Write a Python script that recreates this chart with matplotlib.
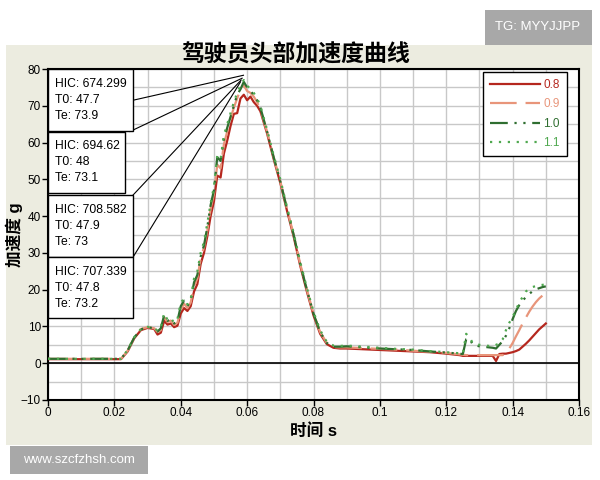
import matplotlib
matplotlib.use("Agg")
import matplotlib.pyplot as plt
from matplotlib.patches import Rectangle
from matplotlib.ticker import MultipleLocator

plt.rcParams['font.family'] = ['Liberation Sans', 'Noto Sans CJK SC', 'DejaVu Sans']

# 数据
t = [0, 0.022, 0.024, 0.026, 0.028, 0.030, 0.032, 0.033, 0.034, 0.035,
     0.036, 0.037, 0.038, 0.039, 0.040, 0.041, 0.042, 0.043, 0.044, 0.045,
     0.046, 0.047, 0.048, 0.049, 0.050, 0.051, 0.052, 0.053, 0.054, 0.055,
     0.056, 0.057, 0.058, 0.059, 0.060, 0.061, 0.062, 0.063, 0.064, 0.066,
     0.068, 0.070, 0.072, 0.074, 0.076, 0.078, 0.080, 0.082, 0.084, 0.086,
     0.088, 0.090, 0.095, 0.100, 0.105, 0.110, 0.115, 0.120, 0.124, 0.125,
     0.126, 0.127, 0.128, 0.130, 0.132, 0.134, 0.135, 0.136, 0.137, 0.138,
     0.139, 0.140, 0.141, 0.142, 0.143, 0.144, 0.145, 0.146, 0.147, 0.148,
     0.149, 0.150]

acc_08 = [1.1, 1.1, 3.2, 6.8, 9.0, 9.6, 9.3, 7.8, 8.3, 11.5,
          10.5, 10.8, 9.8, 10.2, 13.5, 15.0, 14.2, 15.5, 19.5, 21.5,
          27.0, 30.0, 34.5, 40.0, 44.0, 51.0, 50.5, 57.0, 60.5, 64.5,
          67.8, 68.0, 72.0, 73.0, 71.5, 72.5, 71.0, 70.0, 68.5, 62.5,
          55.5, 49.0, 41.5, 34.5, 26.5, 19.5, 13.0, 8.0, 5.2, 4.2,
          4.0, 4.0, 3.8, 3.6, 3.4, 3.2, 3.0, 2.6, 2.2, 2.0,
          2.0, 2.0, 2.0, 2.0, 2.0, 2.0, 0.6, 2.5, 2.6, 2.6,
          2.8, 3.0, 3.3, 3.7, 4.5, 5.3, 6.2, 7.2, 8.2, 9.2,
          10.0, 10.8]

acc_09 = [1.2, 1.2, 3.4, 7.0, 9.3, 9.8, 9.5, 8.5, 9.0, 12.5,
          11.2, 11.6, 10.4, 11.0, 14.5, 16.2, 15.0, 16.5, 21.0, 23.0,
          28.5, 31.5, 36.0, 42.0, 46.0, 54.0, 53.0, 59.5, 63.0, 66.5,
          69.5, 72.0, 74.5, 75.5, 74.0, 73.5, 72.5, 71.0, 69.0, 63.0,
          56.0, 49.5, 42.0, 35.0, 27.0, 20.0, 13.5, 8.5, 5.5, 4.4,
          4.3, 4.3, 4.1, 3.9, 3.7, 3.4, 3.1, 2.8, 2.4, 2.3,
          2.2, 2.2, 2.2, 2.2, 2.2, 2.2, 2.2, 2.2, 2.2, 2.8,
          4.0, 5.5, 7.3, 9.0, 10.8, 12.4, 14.0, 15.4, 16.6, 17.6,
          18.4, 19.0]

acc_10 = [1.2, 1.2, 3.5, 7.0, 9.2, 9.8, 9.5, 8.6, 9.5, 13.0,
          11.5, 12.0, 10.8, 11.5, 15.5, 17.0, 15.5, 17.0, 22.0, 24.0,
          29.0, 32.0, 37.0, 43.0, 47.0, 56.0, 55.0, 61.0, 64.0, 67.0,
          70.0, 73.0, 74.5, 76.5, 75.0, 74.0, 73.0, 71.5, 69.5, 63.0,
          56.0, 49.5, 42.0, 35.0, 27.0, 20.0, 13.5, 8.5, 5.5, 4.5,
          4.5, 4.6, 4.3, 4.0, 3.8, 3.6, 3.2, 2.9, 2.6, 2.5,
          6.5, 6.8, 5.0, 4.6, 4.4, 4.2, 4.0, 5.0, 6.0, 7.5,
          9.5, 12.0, 14.2, 15.8, 17.0, 18.0, 18.8, 19.6, 20.1, 20.4,
          20.7, 20.9]

acc_11 = [1.2, 1.2, 3.6, 7.1, 9.3, 9.9, 9.6, 8.8, 9.8, 13.6,
          11.8, 12.3, 11.0, 12.0, 16.5, 17.5, 16.0, 17.5, 23.0, 25.0,
          30.0, 33.0, 38.0, 43.5, 48.0, 56.5, 55.5, 62.0, 65.0, 68.0,
          71.0, 73.5, 75.5, 77.0, 75.5, 74.5, 73.5, 72.0, 70.0, 63.5,
          56.5, 50.0, 42.5, 35.5, 27.5, 20.5, 14.0, 9.0, 5.8, 4.8,
          4.7, 4.8, 4.5, 4.2, 3.9, 3.7, 3.3, 3.0, 2.7, 2.5,
          8.0, 7.0, 5.5, 5.0, 4.8, 4.6, 5.0, 5.4, 6.5, 9.0,
          11.0, 12.6, 14.5, 16.5, 18.0, 19.5, 20.3, 20.7, 21.0, 21.2,
          21.3, 21.5]

labels = ['0.8', '0.9', '1.0', '1.1']
hic = ['674.299', '694.62', '708.582', '707.339']
t0 = ['47.7', '48', '47.9', '47.8']
te = ['73.9', '73.1', '73', '73.2']

colors = ['#B5271E', '#E8957A', '#2F6E30', '#4FA84F']
styles = ['-', (0, (12, 4)), (0, (8, 3, 1, 3, 1, 3)), (0, (1, 3))]

fig = plt.figure(figsize=(6, 4.8), dpi=100, facecolor='white')
# 背景面板
fig.patches.append(Rectangle((6 / 600, 1 - 445 / 480), 586 / 600, 400 / 480,
                             transform=fig.transFigure, facecolor='#ECECE0',
                             edgecolor='none', zorder=-10))
ax = fig.add_axes([48 / 600, 1 - 400 / 480, 531 / 600, 331 / 480])
ax.set_zorder(1)
ax.set_facecolor('white')

for y, lab, c, ls in zip([acc_08, acc_09, acc_10, acc_11], labels, colors, styles):
    ax.plot(t, y, color=c, linestyle=ls, linewidth=1.6, label=lab, zorder=3)

ax.axhline(0, color='black', linewidth=1.2, zorder=2)

ax.set_xlim(0, 0.16)
ax.set_ylim(-10, 80)
ax.xaxis.set_minor_locator(MultipleLocator(0.01))
ax.yaxis.set_major_locator(MultipleLocator(10))
ax.yaxis.set_minor_locator(MultipleLocator(5))
ax.set_xticks([0, 0.02, 0.04, 0.06, 0.08, 0.1, 0.12, 0.14, 0.16])
ax.set_xticklabels(['0', '0.02', '0.04', '0.06', '0.08', '0.1', '0.12', '0.14', '0.16'])
ax.grid(which='both', color='#C8C8C8', linewidth=1.0, zorder=1)
ax.set_axisbelow(True)
ax.tick_params(which='major', length=4, width=1, labelsize=8.5, pad=1)
ax.tick_params(which='minor', length=0)
for s in ax.spines.values():
    s.set_linewidth(1.5)

fig.text(296 / 600, 1 - 55 / 480, '驾驶员头部加速度曲线', fontsize=16.5,
         fontweight='bold', ha='center', va='center')
ax.set_xlabel('时间 s', fontsize=12, fontweight='bold', labelpad=3)
ax.set_ylabel('加速度 g', fontsize=12, fontweight='bold')
ax.yaxis.set_label_coords(-0.047, 0.5)

# HIC 注释框
boxes = [(80, 63.2, 0.0256), (63.0, 46.2, 0.0232), (45.7, 28.9, 0.0256), (28.8, 12.2, 0.0256)]
starts = [(0.0256, 71.5), (0.0247, 63.0), (0.0256, 45.7), (0.0256, 28.8)]
ends = [(0.0589, 78.3), (0.0585, 77.5), (0.0582, 77.0), (0.0580, 76.5)]
for i, (top, bot, right) in enumerate(boxes):
    ax.add_patch(Rectangle((0, bot), right, top - bot, facecolor='white',
                           edgecolor='black', linewidth=1.0, zorder=5, clip_on=False))
    mid = (top + bot) / 2
    for k, txt in enumerate(['HIC: ' + hic[i], 'T0: ' + t0[i], 'Te: ' + te[i]]):
        ax.text(0.0022, mid + (1 - k) * 4.35, txt, fontsize=8.7, va='center',
                ha='left', zorder=6)
    ax.plot([starts[i][0], ends[i][0]], [starts[i][1], ends[i][1]], color='black',
            linewidth=0.8, zorder=4)

leg = ax.legend(loc='upper right', bbox_to_anchor=(0.977, 0.991), fontsize=8.5,
                handlelength=4.2, labelspacing=0.62, fancybox=False,
                edgecolor='black', framealpha=1, labelcolor='linecolor',
                borderpad=0.6, handletextpad=0.3, borderaxespad=0)
leg.get_frame().set_linewidth(1.0)

# 水印
fig.patches.append(Rectangle((485 / 600, 1 - 45 / 480), 107 / 600, 35 / 480,
                             transform=fig.transFigure, facecolor='#A8A8A8',
                             edgecolor='none', zorder=-5))
fig.text(538 / 600, 1 - 27 / 480, 'TG: MYYJJPP', color='white', fontsize=9.5,
         ha='center', va='center')
fig.patches.append(Rectangle((10 / 600, 1 - 474 / 480), 138 / 600, 28 / 480,
                             transform=fig.transFigure, facecolor='#A8A8A8',
                             edgecolor='none', zorder=-5))
fig.text(79 / 600, 1 - 460 / 480, 'www.szcfzhsh.com', color='white', fontsize=9.5,
         ha='center', va='center')

fig.savefig('out.png', dpi=100, facecolor='white')
